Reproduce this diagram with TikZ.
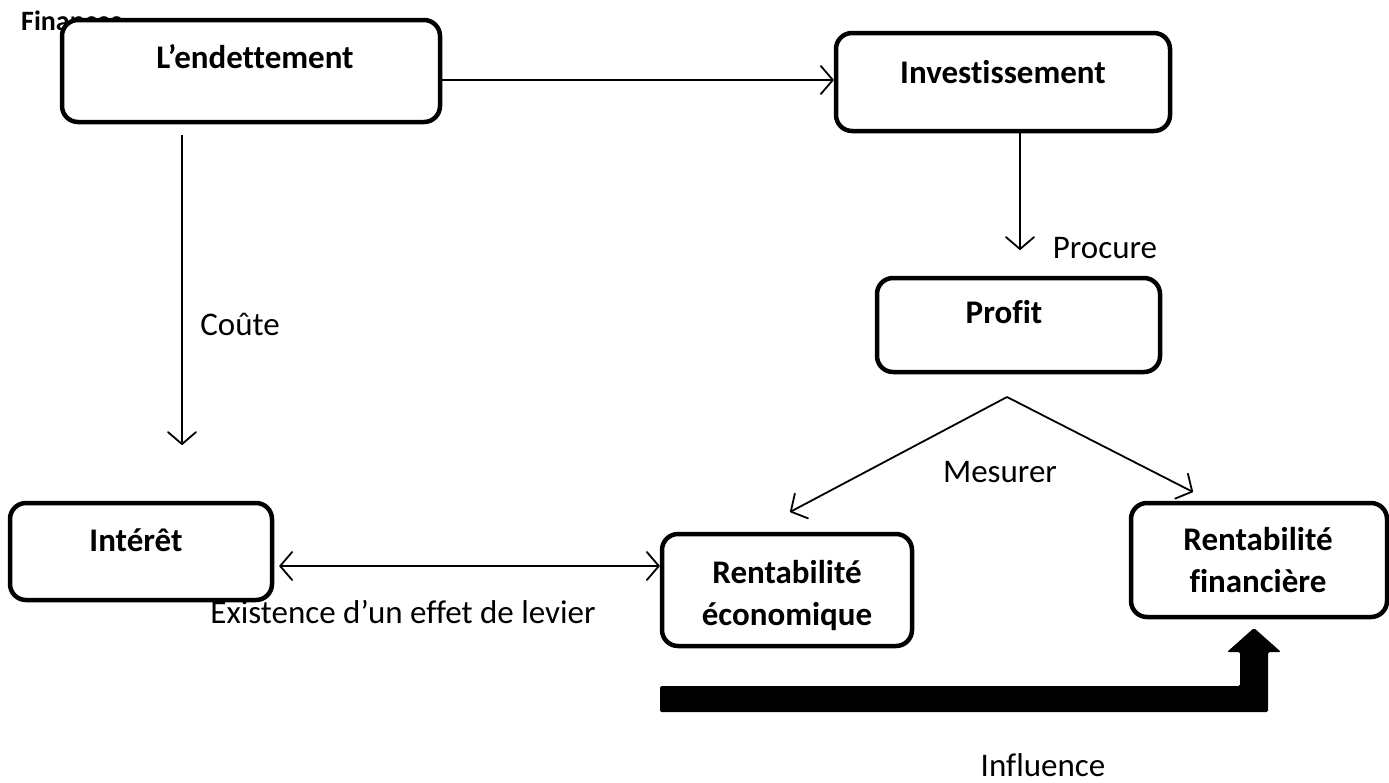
\documentclass[tikz,border=0pt]{standalone}
\usepackage{fontspec}
\setmainfont{Carlito}[Ligatures=CommonOff]
\usetikzlibrary{arrows.meta}
\begin{document}
\begin{tikzpicture}[x=1pt,y=-1pt,
  box/.style={draw, line width=4.5pt, rounded corners=16pt, fill=white, inner sep=0pt},
  title/.style={font=\fontsize{33}{42}\selectfont\bfseries, align=center, inner sep=0pt},
  lbl/.style={font=\fontsize{33}{38}\selectfont, inner sep=0pt},
  barb/.tip={Straight Barb[length=12pt,width=28pt,line cap=round,line join=round]},
  link/.style={line width=1.8pt, -barb},
  dlink/.style={line width=1.8pt, barb-barb},
]
\useasboundingbox (0,0) rectangle (1389,782);

% heading, partly covered by the first box
\node[font=\fontsize{28}{32}\selectfont\bfseries, inner sep=0pt, anchor=base west] (fin) at (21,30) {Finances};

% boxes
\node[box, minimum width=378pt, minimum height=102pt] (endet) at (251,71) {};
\node[box, minimum width=334pt, minimum height=98pt] (invest) at (1003,82) {};
\node[box, minimum width=283pt, minimum height=94pt] (profit) at (1018.5,325) {};
\node[box, minimum width=262pt, minimum height=97pt] (intr) at (141,551.5) {};
\node[box, minimum width=250pt, minimum height=112pt] (renteco) at (787,590) {};
\node[box, minimum width=256pt, minimum height=114pt] (rentfin) at (1259,560) {};

% box texts (base anchor = baseline of the last line)
\node[title] (t-endet) at (255,57) {L’endettement};
\node[title] (t-invest) at (1003,72) {Investissement};
\node[title] (t-profit) at (1004,312) {Profit};
\node[title] (t-intr) at (136,540) {Intérêt};
\node[title, anchor=base] (t-renteco) at (787,625) {Rentabilité\\économique};
\node[title, anchor=base] (t-rentfin) at (1258,592) {Rentabilité\\financière};

% connectors
\coordinate (a1) at ([yshift=-9pt]endet.east);
\draw[link] (a1) -- (invest.west |- a1);

\coordinate (a2) at ([xshift=17pt]invest.south);
\coordinate (a2e) at (1020,250);
\draw[link] (a2) -- (a2e);

\coordinate (c1) at (182,135);
\coordinate (c2) at (182,445);
\draw[link] (c1) -- (c2);

\coordinate (peak) at (1007,397);
\coordinate (m1) at (790,512);
\coordinate (m2) at (1193,492);
\draw[link] (peak) -- (m1);
\draw[link] (peak) -- (m2);

\coordinate (d1) at ([xshift=5pt,yshift=-14.5pt]intr.east);
\draw[dlink] (d1) -- (renteco.west |- d1);

% thick bent arrow
\fill[rounded corners=1.5pt] (660,686) -- (1240,686) -- (1240,652) -- (1227,652)
  -- (1254,628) -- (1281,652) -- (1268,652) -- (1268,712) -- (660,712) -- cycle;

% labels
\node[lbl] (l-procure) at (1105,248) {Procure};
\node[lbl] (l-coute) at (240,324) {Coûte};
\node[lbl] (l-mesurer) at (1000,472) {Mesurer};
\node[lbl] (l-levier) at (403,612) {Existence d’un effet de levier};
\node[lbl, anchor=base] (l-influence) at (1043,776) {Influence};
\end{tikzpicture}
\end{document}
